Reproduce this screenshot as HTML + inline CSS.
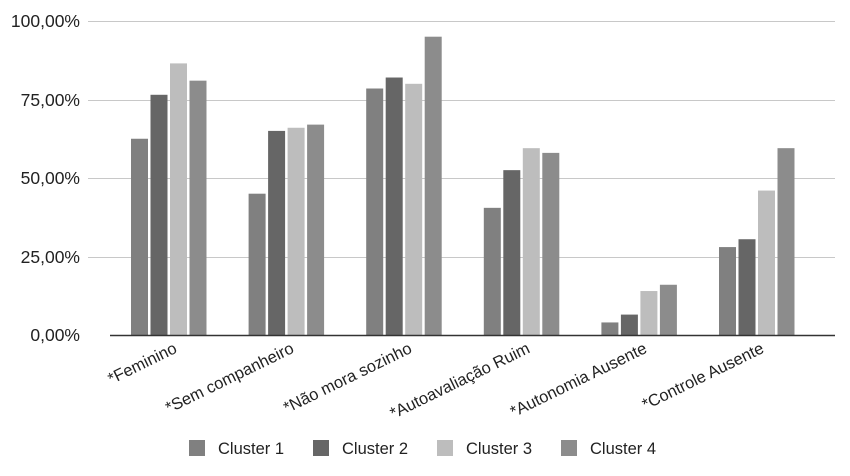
<!DOCTYPE html><html><head><style>body{margin:0;background:#fff}</style></head><body>
<svg width="850" height="471" xmlns="http://www.w3.org/2000/svg" font-family="Liberation Sans, sans-serif" font-size="16.5" fill="#222">
<g stroke="#c8c8c8" stroke-width="1">
<line x1="88" y1="21.5" x2="835" y2="21.5"/><line x1="88" y1="100.5" x2="835" y2="100.5"/><line x1="88" y1="178.5" x2="835" y2="178.5"/><line x1="88" y1="257.5" x2="835" y2="257.5"/>
</g>
<g text-anchor="end" font-size="17.5">
<text x="80" y="27">100,00%</text><text x="80" y="106">75,00%</text><text x="80" y="184">50,00%</text><text x="80" y="263">25,00%</text><text x="80" y="341">0,00%</text>
</g>
<g id="bars"></g>
<line x1="110" y1="335.5" x2="835" y2="335.5" stroke="#333" stroke-width="1.5"/>
<g text-anchor="end">
<text transform="translate(178,352) rotate(-26)">*Feminino</text>
<text transform="translate(295,352) rotate(-26)">*Sem companheiro</text>
<text transform="translate(413,352) rotate(-26)">*Não mora sozinho</text>
<text transform="translate(531,352) rotate(-26)">*Autoavaliação Ruim</text>
<text transform="translate(648,352) rotate(-26)">*Autonomia Ausente</text>
<text transform="translate(765,352) rotate(-26)">*Controle Ausente</text>
</g>
<rect x="189" y="440" width="16" height="16" fill="#808080"/><text x="218" y="454">Cluster 1</text>
<rect x="313" y="440" width="16" height="16" fill="#666"/><text x="342" y="454">Cluster 2</text>
<rect x="437" y="440" width="16" height="16" fill="#bdbdbd"/><text x="466" y="454">Cluster 3</text>
<rect x="561" y="440" width="16" height="16" fill="#8c8c8c"/><text x="590" y="454">Cluster 4</text>
</svg>
<script>
var d=[[62.5,76.5,86.5,81],[45,65,66,67],[78.5,82,80,95],[40.5,52.5,59.5,58],[4,6.5,14,16],[28,30.5,46,59.5]];
var c=["#808080","#666","#bdbdbd","#8c8c8c"],g=document.getElementById("bars"),s="";
d.forEach(function(r,i){var x0=131+i*117.6;r.forEach(function(v,j){var h=v*3.14;s+='<rect x="'+(x0+j*19.5)+'" y="'+(335-h)+'" width="17" height="'+h+'" fill="'+c[j]+'"/>';});});
g.innerHTML=s;
</script>
</body></html>
